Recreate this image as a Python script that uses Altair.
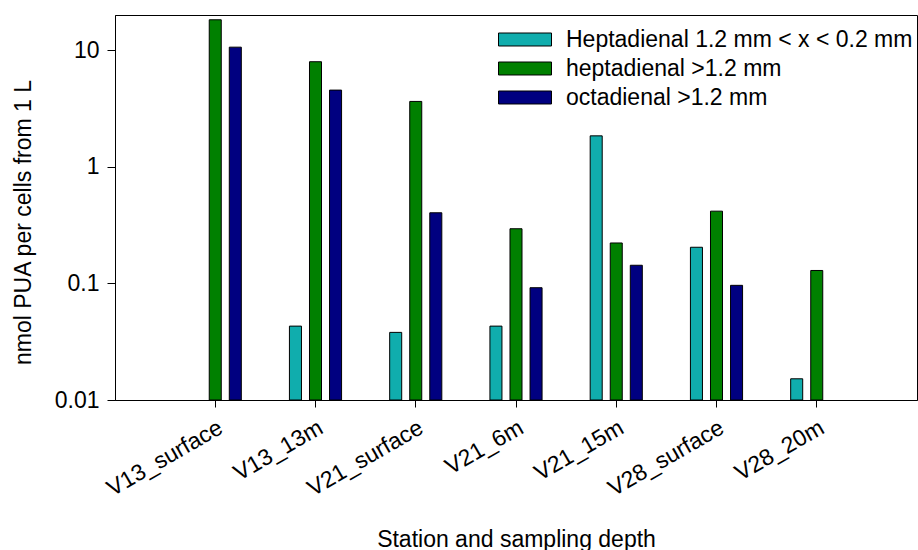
import altair as alt
import pandas as pd

stations = ["V13_surface", "V13_13m", "V21_surface", "V21_6m", "V21_15m", "V28_surface", "V28_20m"]
series_names = ["Heptadienal 1.2 mm < x < 0.2 mm", "heptadienal >1.2 mm", "octadienal >1.2 mm"]
hept_small = [None, 0.043, 0.038, 0.043, 1.84, 0.204, 0.0152]
hept_large = [18.2, 7.95, 3.63, 0.294, 0.222, 0.416, 0.129]
oct_large = [10.6, 4.54, 0.403, 0.0918, 0.143, 0.0962, None]
colors = ["#10ADAD", "#008000", "#000080"]
y_ticks = [0.01, 0.1, 1, 10]

rows = []
for name, vals in zip(series_names, [hept_small, hept_large, oct_large]):
    for st, v in zip(stations, vals):
        if v is not None:
            rows.append({"station": st, "series": name, "value": v})
df = pd.DataFrame(rows)

FONT = "Liberation Sans"
FS = 23

chart = alt.Chart(df).mark_bar(stroke="black", strokeWidth=1).encode(
    x=alt.X("station:N", sort=stations,
            scale=alt.Scale(paddingInner=0.4, paddingOuter=0.7),
            axis=alt.Axis(title="Station and sampling depth", labelAngle=-30,
                          labelAlign="right", labelBaseline="top", labelPadding=9,
                          tickSize=7, titleY=146, titleBaseline="alphabetic")),
    xOffset=alt.XOffset("series:N", sort=series_names,
                        scale=alt.Scale(domain=series_names, paddingInner=0.4, paddingOuter=0.2)),
    y=alt.Y("value:Q", scale=alt.Scale(type="log", domain=[0.01, 20], nice=False),
            axis=alt.Axis(title="nmol PUA per cells from 1 L", values=y_ticks, format="~g",
                          tickSize=8, labelPadding=8, grid=False,
                          titleX=-85, titleY=207, titleBaseline="alphabetic")),
    y2=alt.Y2(datum=0.01),
    color=alt.Color("series:N", sort=series_names,
                    scale=alt.Scale(domain=series_names, range=colors),
                    legend=alt.Legend(title=None, orient="none", legendX=383, legendY=10,
                                      symbolType="M-1,-0.245L1,-0.245L1,0.245L-1,0.245Z",
                                      symbolSize=2809, symbolStrokeColor="black",
                                      symbolStrokeWidth=1, symbolOpacity=1,
                                      labelFontSize=FS, labelFont=FONT, labelColor="black",
                                      labelOffset=14, labelLimit=1000, clipHeight=29,
                                      rowPadding=0, padding=0)),
).properties(
    width=802, height=385, autosize="none",
    padding={"left": 115, "top": 15, "right": 1, "bottom": 150},
).configure_view(
    stroke="black", strokeWidth=1
).configure_axis(
    labelFont=FONT, titleFont=FONT, labelFontSize=FS, titleFontSize=FS,
    labelColor="black", titleColor="black", titleFontWeight="normal",
    domainColor="black", tickColor="black", grid=False,
)

chart.save("out.html", embed_options={"renderer": "svg", "actions": False})
